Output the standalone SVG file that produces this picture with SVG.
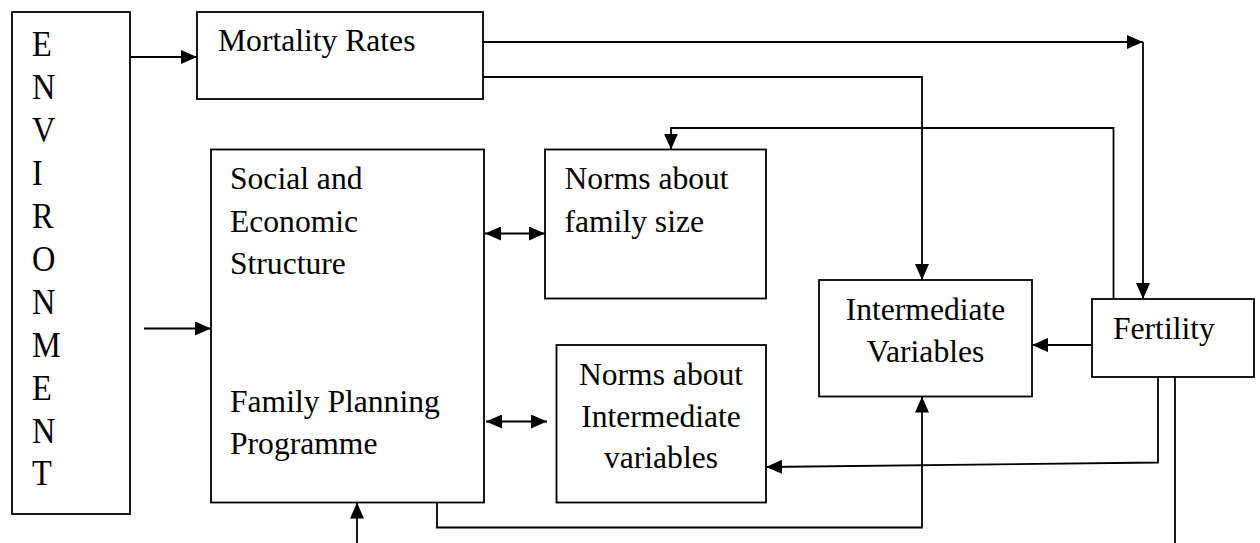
<svg xmlns="http://www.w3.org/2000/svg" width="1260" height="543" viewBox="0 0 1260 543">
<style>
.box{fill:#fff;stroke:#000;stroke-width:1.8}
.t{font-family:"Liberation Serif","Times New Roman",serif;font-size:31.6px;fill:#000}
.env{font-family:"Liberation Serif","Times New Roman",serif;font-size:36px;fill:#000}
.c{text-anchor:middle}
.ln{fill:none;stroke:#000;stroke-width:1.8}
</style>
<defs>
<marker id="ah" markerUnits="userSpaceOnUse" markerWidth="16" markerHeight="14" refX="16" refY="7" orient="auto-start-reverse" viewBox="0 0 16 14">
<path d="M0,0 L16,7 L0,14 z" fill="#000"/>
</marker>
</defs>
<rect width="1260" height="543" fill="#fff"/>
<g id="connectors">
<path class="ln" d="M130,57 H197" marker-end="url(#ah)"/>
<path class="ln" d="M144,328.5 H211" marker-end="url(#ah)"/>
<path class="ln" d="M483,42 H1143" marker-end="url(#ah)"/>
<path class="ln" d="M1143,42 V299" marker-end="url(#ah)"/>
<path class="ln" d="M483,77 H922 V280" marker-end="url(#ah)"/>
<path class="ln" d="M1113.5,299 V128 H671 V149.5" marker-end="url(#ah)"/>
<path class="ln" d="M485,233.5 H545" marker-start="url(#ah)" marker-end="url(#ah)"/>
<path class="ln" d="M486,421.5 H547" marker-start="url(#ah)" marker-end="url(#ah)"/>
<path class="ln" d="M1092,345 H1032" marker-end="url(#ah)"/>
<path class="ln" d="M1158,377 V462.5 L766,467" marker-end="url(#ah)"/>
<path class="ln" d="M1175,377 V543"/>
<path class="ln" d="M437,502.5 V527.5 H922 V396.5" marker-end="url(#ah)"/>
<path class="ln" d="M357,543 V502.5" marker-end="url(#ah)"/>
</g>
<g id="environment">
<rect class="box" x="12" y="12" width="118" height="502"/>
<g transform="translate(32,0) scale(0.9,1) translate(-32,0)">
<text class="env" x="32" y="56.5">E</text>
<text class="env" x="32" y="99.5">N</text>
<text class="env" x="32" y="142">V</text>
<text class="env" x="32" y="185">I</text>
<text class="env" x="32" y="228">R</text>
<text class="env" x="32" y="271">O</text>
<text class="env" x="32" y="314">N</text>
<text class="env" x="32" y="357">M</text>
<text class="env" x="32" y="400">E</text>
<text class="env" x="32" y="443">N</text>
<text class="env" x="32" y="485.5">T</text>
</g>
</g>
<g id="mortality">
<rect class="box" x="197" y="12" width="286" height="87"/>
<text class="t" x="218" y="51">Mortality Rates</text>
</g>
<g id="social">
<rect class="box" x="211" y="149.5" width="273" height="353"/>
<text class="t" x="230" y="189">Social and</text>
<text class="t" x="230" y="231.5">Economic</text>
<text class="t" x="230" y="273.5">Structure</text>
<text class="t" x="230" y="412">Family Planning</text>
<text class="t" x="230" y="453.5">Programme</text>
</g>
<g id="norms-family">
<rect class="box" x="545" y="149.5" width="221" height="149"/>
<text class="t" x="564.5" y="188.5">Norms about</text>
<text class="t" x="564.5" y="231.5">family size</text>
</g>
<g id="norms-intermediate">
<rect class="box" x="556.5" y="345" width="209.5" height="157.5"/>
<text class="t c" x="661" y="385">Norms about</text>
<text class="t c" x="661" y="426.5">Intermediate</text>
<text class="t c" x="661" y="468">variables</text>
</g>
<g id="intermediate">
<rect class="box" x="819" y="280" width="213" height="116.5"/>
<text class="t c" x="925.5" y="320">Intermediate</text>
<text class="t c" x="925.5" y="362">Variables</text>
</g>
<g id="fertility">
<rect class="box" x="1092" y="299" width="162" height="78"/>
<text class="t" x="1113" y="339">Fertility</text>
</g>
</svg>
